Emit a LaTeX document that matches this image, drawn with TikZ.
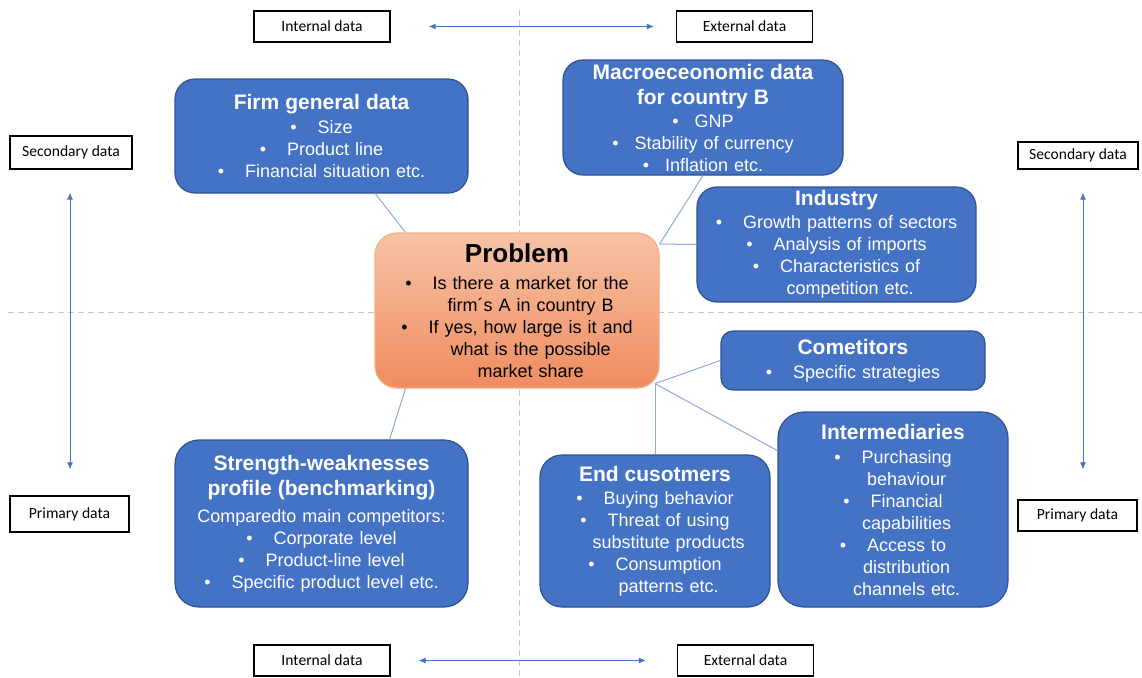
\documentclass[tikz,border=0pt]{standalone}
\usepackage{fontspec}
\setmainfont{Liberation Sans}
\newfontfamily\labelfont{Carlito}
\usetikzlibrary{arrows.meta}

\definecolor{boxblue}{HTML}{4472C4}
\definecolor{boxline}{HTML}{2F528F}
\definecolor{linkblue}{HTML}{8EA9DB}
\definecolor{probtop}{HTML}{F7C3A6}
\definecolor{probbot}{HTML}{EF8C5F}
\definecolor{probline}{HTML}{F4B183}

\newcommand{\titlefont}{\fontsize{10.5}{12.5}\selectfont\bfseries}
\newcommand{\dotitem}[1][10.5pt]{\textbullet\hspace{#1}}
\newcommand{\contitem}[1][10.5pt]{\hphantom{\textbullet}\hspace{#1}}

\tikzset{
  infobox/.style={rectangle, rounded corners=10pt, draw=boxline, line width=0.6pt,
    fill=boxblue, text=white, inner xsep=4pt, inner ysep=0pt, align=center,
    font=\fontsize{9}{11}\selectfont},
  probbox/.style={infobox, draw=probline, top color=probtop, bottom color=probbot,
    text=black, rounded corners=11pt},
  databox/.style={draw=black, line width=0.6pt, fill=white, inner sep=0pt,
    font=\labelfont\fontsize{7.8}{9}\selectfont},
  link/.style={draw=linkblue, line width=0.5pt},
  dataarrow/.style={draw=boxblue, line width=0.5pt,
    {Latex[length=3.5pt,width=3pt]}-{Latex[length=3.5pt,width=3pt]}},
  guide/.style={draw=gray!45, line width=0.5pt, dash pattern=on 3pt off 2pt}
}

\begin{document}
\begin{tikzpicture}[x=0.5pt,y=-0.5pt]
  \useasboundingbox (0,0) rectangle (1142,677);
  % quadrant guides:
  \draw[guide] (519,10) -- (519,677);
  \draw[guide] (8,312) -- (1142,312);

  % data type labels:
  \node[databox, minimum width=68pt, minimum height=15.5pt] (intT) at (322,26.5) {Internal data};
  \node[databox, minimum width=68pt, minimum height=15.5pt] (extT) at (744.5,26.5) {External data};
  \node[databox, minimum width=68pt, minimum height=15.5pt] (intB) at (322,660.5) {Internal data};
  \node[databox, minimum width=68pt, minimum height=15.5pt] (extB) at (745.5,660.5) {External data};
  \node[databox, minimum width=61pt, minimum height=16.5pt] (secL) at (71,152.5) {Secondary data};
  \node[databox, minimum width=59.5pt, minimum height=18pt] (priL) at (69.5,514) {Primary data};
  \node[databox, minimum width=60pt, minimum height=13.5pt] (secR) at (1078,155.5) {Secondary data};
  \node[databox, minimum width=59.5pt, minimum height=15.5pt] (priR) at (1077.5,515.5) {Primary data};

  % double arrows between the labels:
  \draw[dataarrow] ([xshift=19pt]intT.east) -- ([xshift=-11pt]extT.west);
  \draw[dataarrow] ([xshift=14pt]intB.east) -- ([xshift=-15.5pt]extB.west);
  \draw[dataarrow] ([xshift=-0.5pt,yshift=-11.5pt]secL.south) -- ([xshift=0.25pt,yshift=13pt]priL.north);
  \draw[dataarrow] ([xshift=2.5pt,yshift=-11.5pt]secR.south) -- ([xshift=2.75pt,yshift=15pt]priR.north);

  % the problem:
  \node[probbox, text width=134pt, minimum height=77.5pt] (prob) at (517,310.5)
    {{\fontsize{13}{15}\selectfont\bfseries Problem}\\[2.5pt]
     \dotitem Is there a market for the\\
     \contitem firm´s A in country B\\
     \dotitem If yes, how large is it and\\
     \contitem what is the possible\\
     \contitem market share};

  % data sources:
  \node[infobox, text width=138.5pt, minimum height=57pt] (firm) at (321.5,136)
    {{\titlefont Firm general data}\\[1pt]
     \dotitem Size\\
     \dotitem Product line\\
     \dotitem Financial situation etc.};
  \node[infobox, text width=132pt, minimum height=57.5pt] (macro) at (703,117.5)
    {{\titlefont Macroeceonomic data\\[1.5pt]for country B}\\[0.5pt]
     \dotitem[5pt] GNP\\
     \dotitem[5pt] Stability of currency\\
     \dotitem[5pt] Inflation etc.};
  \node[infobox, text width=131.5pt, minimum height=57.5pt] (ind) at (836.5,244.5)
    {{\titlefont Industry}\\[0.5pt]
     \dotitem Growth patterns of sectors\\
     \dotitem Analysis of imports\\
     \dotitem Characteristics of\\
     \contitem competition etc.};
  \node[infobox, text width=124pt, minimum height=29.5pt, rounded corners=6pt] (comp) at (853,360.5)
    {{\titlefont Cometitors}\\[1pt]
     \dotitem Specific strategies};
  \node[infobox, text width=107pt, minimum height=97.5pt, rounded corners=13pt] (inter) at (893,509.5)
    {{\titlefont Intermediaries}\\[1pt]
     \dotitem Purchasing\\
     \contitem behaviour\\
     \dotitem Financial\\
     \contitem capabilities\\
     \dotitem Access to\\
     \contitem distribution\\
     \contitem channels etc.};
  \node[infobox, text width=107pt, minimum height=76pt, rounded corners=11pt] (endc) at (655,531)
    {{\titlefont End cusotmers}\\[0.5pt]
     \dotitem Buying behavior\\
     \dotitem Threat of using\\
     \contitem substitute products\\
     \dotitem Consumption\\
     \contitem patterns etc.};
  \node[infobox, text width=138.5pt, minimum height=83.5pt, rounded corners=12pt] (strength) at (321.5,523.5)
    {{\titlefont Strength-weaknesses\\[1.5pt]profile (benchmarking)}\\[2.5pt]
     Comparedto main competitors:\\
     \dotitem Corporate level\\
     \dotitem Product-line level\\
     \dotitem Specific product level etc.};

  % links to the problem:
  \coordinate (hubT) at (prob.25);
  \coordinate (hubB) at ([yshift=2.5pt]endc.north |- prob.south);
  \draw[link] (firm.-47) -- (prob.145);
  \draw[link] (strength.51) -- (prob.-145);
  \draw[link] (macro.south) -- (hubT);
  \draw[link] (hubT) -- (ind.west);
  \draw[link] (hubB) -- (comp.west);
  \draw[link] (hubB) -- (inter.153);
  \draw[link] (hubB) -- (endc.north);
\end{tikzpicture}
\end{document}
